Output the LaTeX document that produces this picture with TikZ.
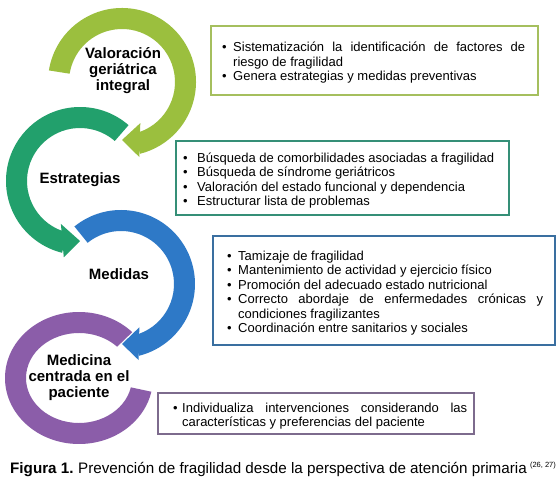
\documentclass[tikz,border=0pt]{standalone}
\usepackage{fontspec}
\setmainfont{Liberation Sans}
\definecolor{cg}{HTML}{9BBF3E}
\definecolor{ct}{HTML}{22A06C}
\definecolor{cb}{HTML}{2E79C7}
\definecolor{cp}{HTML}{8B5DA9}
\definecolor{bga}{HTML}{A5BF5E}
\definecolor{bgb}{HTML}{358F77}
\definecolor{bgc}{HTML}{3A6FA0}
\definecolor{bgd}{HTML}{7D6B8D}
\newcommand\bul[2]{\par\noindent\hangindent=#1\hangafter=1\makebox[#1][l]{\textbullet}#2\par}
\begin{document}
\hyphenpenalty=10000 \exhyphenpenalty=10000 \tolerance=9999
\begin{tikzpicture}[x=1pt,y=1pt,
  lbl/.style={font=\fontsize{15}{16}\selectfont\bfseries, align=center, inner sep=0},
  frame/.style={draw=#1, line width=1.8pt, inner sep=0, anchor=north west},
  txt/.style={font=\fontsize{13}{14.5}\selectfont, align=justify, inner sep=0, anchor=west}]
\useasboundingbox (0,0) rectangle (559,490);
\fill[white] (0,0) rectangle (559,490);
% green ring
\begin{scope}[shift={(122,408)}]
\fill[cg] (171:74pt) arc[start angle=171,end angle=-76,radius=74pt] -- (-76:53pt) arc[start angle=-76,end angle=171,radius=53pt] -- cycle;
\fill[cg] (-90:58pt) -- (-66:45pt) -- (-77:77pt) -- cycle;
\end{scope}
% teal ring
\begin{scope}[shift={(80,309)}]
\fill[ct] (49:74pt) arc[start angle=49,end angle=256,radius=74pt] -- (256:53pt) arc[start angle=256,end angle=49,radius=53pt] -- cycle;
\fill[ct] (270:60pt) -- (246:47pt) -- (258:78pt) -- cycle;
\end{scope}
% blue ring
\begin{scope}[shift={(121,206)}]
\fill[cb] (129:74pt) arc[start angle=129,end angle=-76,radius=74pt] -- (-76:53pt) arc[start angle=-76,end angle=129,radius=53pt] -- cycle;
\fill[cb] (-89:60pt) -- (-67:47pt) -- (-77:78pt) -- cycle;
\end{scope}
% purple ring
\begin{scope}[shift={(79,112)}]
\fill[cp] (44:74pt and 66pt) arc[start angle=44,end angle=348,x radius=74pt,y radius=66pt] -- (348:53pt and 45pt) arc[start angle=348,end angle=44,x radius=53pt,y radius=45pt] -- cycle;
\end{scope}
% labels
\node[lbl] (l1) at (123,419) {Valoración\\geriátrica\\integral};
\node[lbl] (l2) at (80,310) {Estrategias};
\node[lbl] (l3) at (119,216) {Medidas};
\node[lbl] (l4) at (79,112) {Medicina\\centrada en el\\paciente};
% boxes
\node[frame=bga, minimum width=327pt, minimum height=69pt] (b1) at (210,465) {};
\node[frame=bgb, minimum width=333pt, minimum height=74pt] (b2) at (175,350) {};
\node[frame=bgc, minimum width=342pt, minimum height=109pt] (b3) at (212,255) {};
\node[frame=bgd, minimum width=316pt, minimum height=41pt] (b4) at (157,98) {};
\node[txt, text width=303pt] (t1) at ([xshift=12pt]b1.west) {%
\bul{11pt}{Sistematización la identificación de factores de riesgo de fragilidad}%
\bul{11pt}{Genera estrategias y medidas preventivas}};
\node[txt, text width=320pt] (t2) at ([xshift=8pt]b2.west) {%
\bul{14pt}{Búsqueda de comorbilidades asociadas a fragilidad}%
\bul{14pt}{Búsqueda de síndrome geriátricos}%
\bul{14pt}{Valoración del estado funcional y dependencia}%
\bul{14pt}{Estructurar lista de problemas}};
\node[txt, text width=316pt] (t3) at ([xshift=15pt]b3.west) {%
\bul{11pt}{Tamizaje de fragilidad}%
\bul{11pt}{Mantenimiento de actividad y ejercicio físico}%
\bul{11pt}{Promoción del adecuado estado nutricional}%
\bul{11pt}{Correcto abordaje de enfermedades crónicas y condiciones fragilizantes}%
\bul{11pt}{Coordinación entre sanitarios y sociales}};
\node[txt, text width=294pt] (t4) at ([xshift=16pt]b4.west) {%
\bul{9pt}{Individualiza intervenciones considerando las características y preferencias del paciente}};
% caption
\node[anchor=base west, inner sep=0, font=\fontsize{15.2}{17}\selectfont] (cap) at (10,17) {\textbf{Figura 1.}\hspace{-1pt} Prevención de fragilidad desde la perspectiva de atención primaria\hspace{-1pt} \raisebox{5.5pt}{\fontsize{7.5}{9}\selectfont(26, 27)}};
\end{tikzpicture}
\end{document}
